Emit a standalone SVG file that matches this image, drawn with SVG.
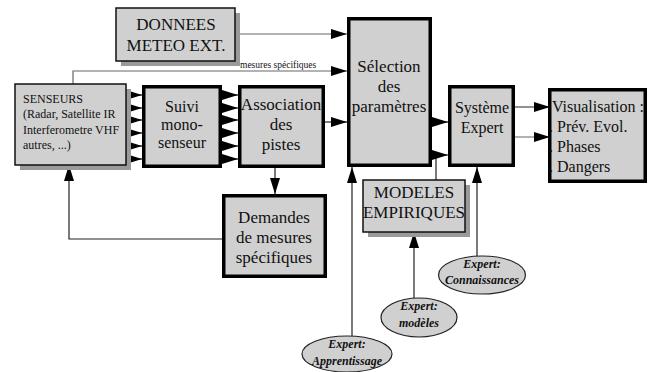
<svg xmlns="http://www.w3.org/2000/svg" width="656" height="372" viewBox="0 0 656 372">
<defs>
<style>
.shadow{fill:#9a9a9a;}
.thin{fill:#d0d0d0;stroke:#111;stroke-width:1.5;}
.thick{fill:#d0d0d0;stroke:#000;stroke-width:3.5;}
.ell{fill:#d0d0d0;stroke:#222;stroke-width:1.2;}
.t{font-family:"Liberation Serif","Times New Roman",serif;fill:#111;}
.c{text-anchor:middle;}
.e{font-family:"Liberation Serif","Times New Roman",serif;font-weight:bold;font-style:italic;font-size:12px;text-anchor:middle;fill:#111;}
.ln{fill:none;stroke:#222;stroke-width:1.2;}
.lg{fill:none;stroke:#666;stroke-width:1.2;}
</style>
<marker id="ah" markerUnits="userSpaceOnUse" markerWidth="16" markerHeight="10" refX="16" refY="5" orient="auto">
<path d="M0,0 L16,5 L0,10 z" fill="#000"/>
</marker>
</defs>

<g id="connectors">
<path class="lg" d="M235,34 H347" marker-end="url(#ah)"/>
<path class="lg" d="M73,84 V71 H347" marker-end="url(#ah)"/>
<text class="t" x="240" y="68" font-size="9.5">mesures spécifiques</text>
<path class="ln" d="M126,95 H142" marker-end="url(#ah)"/>
<path class="ln" d="M126,108 H142" marker-end="url(#ah)"/>
<path class="ln" d="M126,120 H142" marker-end="url(#ah)"/>
<path class="ln" d="M126,133 H142" marker-end="url(#ah)"/>
<path class="ln" d="M126,146 H142" marker-end="url(#ah)"/>
<path class="ln" d="M126,159 H142" marker-end="url(#ah)"/>
<path class="ln" d="M222,95 H238" marker-end="url(#ah)"/>
<path class="ln" d="M222,108 H238" marker-end="url(#ah)"/>
<path class="ln" d="M222,120 H238" marker-end="url(#ah)"/>
<path class="ln" d="M222,133 H238" marker-end="url(#ah)"/>
<path class="ln" d="M222,146 H238" marker-end="url(#ah)"/>
<path class="ln" d="M222,159 H238" marker-end="url(#ah)"/>
<path class="ln" d="M325,122 H347" marker-end="url(#ah)"/>
<path class="ln" d="M275,168 V194" marker-end="url(#ah)"/>
<path class="ln" d="M222,239 H69 V165" marker-end="url(#ah)"/>
<path class="ln" d="M432,122 H448" marker-end="url(#ah)"/>
<path class="ln" d="M436,180 V155 H448" marker-end="url(#ah)"/>
<path class="ln" d="M515,107 H550" marker-end="url(#ah)"/>
<path class="lg" d="M515,137 H550" marker-end="url(#ah)"/>
<path class="ln" d="M477,256 V167" marker-end="url(#ah)"/>
<path class="ln" d="M414,298 V232" marker-end="url(#ah)"/>
<path class="ln" d="M352,336 V167" marker-end="url(#ah)"/>
</g>

<g id="donnees">
<rect class="shadow" x="121" y="13" width="119" height="53"/>
<rect class="thin" x="116" y="8" width="119" height="53"/>
<text class="t c" x="176" y="30" font-size="17">DONNEES</text>
<text class="t c" x="176" y="51" font-size="17">METEO EXT.</text>
</g>

<g id="senseurs">
<rect class="shadow" x="20" y="89" width="111" height="81"/>
<rect class="thin" x="15" y="84" width="111" height="81"/>
<text class="t" x="23" y="103" font-size="12">SENSEURS</text>
<text class="t" x="23" y="118" font-size="12">(Radar, Satellite IR</text>
<text class="t" x="23" y="134" font-size="12">Interferometre VHF</text>
<text class="t" x="23" y="149" font-size="12">autres, ...)</text>
</g>

<g id="suivi">
<rect class="thick" x="143.75" y="86.75" width="76.5" height="79.5"/>
<text class="t c" x="182" y="112" font-size="16">Suivi</text>
<text class="t c" x="182" y="130" font-size="16">mono-</text>
<text class="t c" x="182" y="148" font-size="16">senseur</text>
</g>

<g id="association">
<rect class="thick" x="239.75" y="86.75" width="83.5" height="79.5"/>
<text class="t c" x="281" y="110" font-size="17">Association</text>
<text class="t c" x="281" y="130" font-size="17">des</text>
<text class="t c" x="281" y="150" font-size="17">pistes</text>
</g>

<g id="selection">
<rect class="thick" x="348.75" y="18.75" width="81.5" height="146.5"/>
<text class="t c" x="389" y="72" font-size="17">Sélection</text>
<text class="t c" x="389" y="92" font-size="17">des</text>
<text class="t c" x="389" y="112" font-size="17">paramètres</text>
</g>

<g id="systeme">
<rect class="thick" x="449.75" y="86.75" width="63.5" height="78.5"/>
<text class="t c" x="482" y="113" font-size="16">Système</text>
<text class="t c" x="482" y="133" font-size="16">Expert</text>
</g>

<g id="visualisation">
<rect class="thick" x="549.75" y="89.75" width="95.5" height="91.5"/>
<text class="t" x="552" y="112" font-size="16">Visualisation :</text>
<text class="t" x="549" y="132" font-size="16">. Prév. Evol.</text>
<text class="t" x="549" y="152" font-size="16">. Phases</text>
<text class="t" x="549" y="172" font-size="16">. Dangers</text>
</g>

<g id="demandes">
<rect class="thick" x="223.75" y="195.75" width="101.5" height="80.5"/>
<text class="t c" x="274" y="223" font-size="17">Demandes</text>
<text class="t c" x="274" y="243" font-size="17">de mesures</text>
<text class="t c" x="274" y="263" font-size="17">spécifiques</text>
</g>

<g id="modeles">
<rect class="shadow" x="368" y="185" width="102" height="52"/>
<rect class="thin" x="363" y="180" width="102" height="52"/>
<text class="t c" x="414" y="198" font-size="17">MODELES</text>
<text class="t c" x="414" y="218" font-size="17">EMPIRIQUES</text>
</g>

<g id="expert-connaissances">
<ellipse class="ell" cx="482" cy="275" rx="43.5" ry="19"/>
<text class="e" x="482" y="268">Expert:</text>
<text class="e" x="482" y="284">Connaissances</text>
</g>

<g id="expert-modeles">
<ellipse class="ell" cx="419" cy="317.5" rx="38" ry="19.5"/>
<text class="e" x="419" y="310">Expert:</text>
<text class="e" x="419" y="327">modèles</text>
</g>

<g id="expert-apprentissage">
<ellipse class="ell" cx="347" cy="354" rx="45" ry="18"/>
<text class="e" x="347" y="348">Expert:</text>
<text class="e" x="347" y="365">Apprentissage</text>
</g>
</svg>
